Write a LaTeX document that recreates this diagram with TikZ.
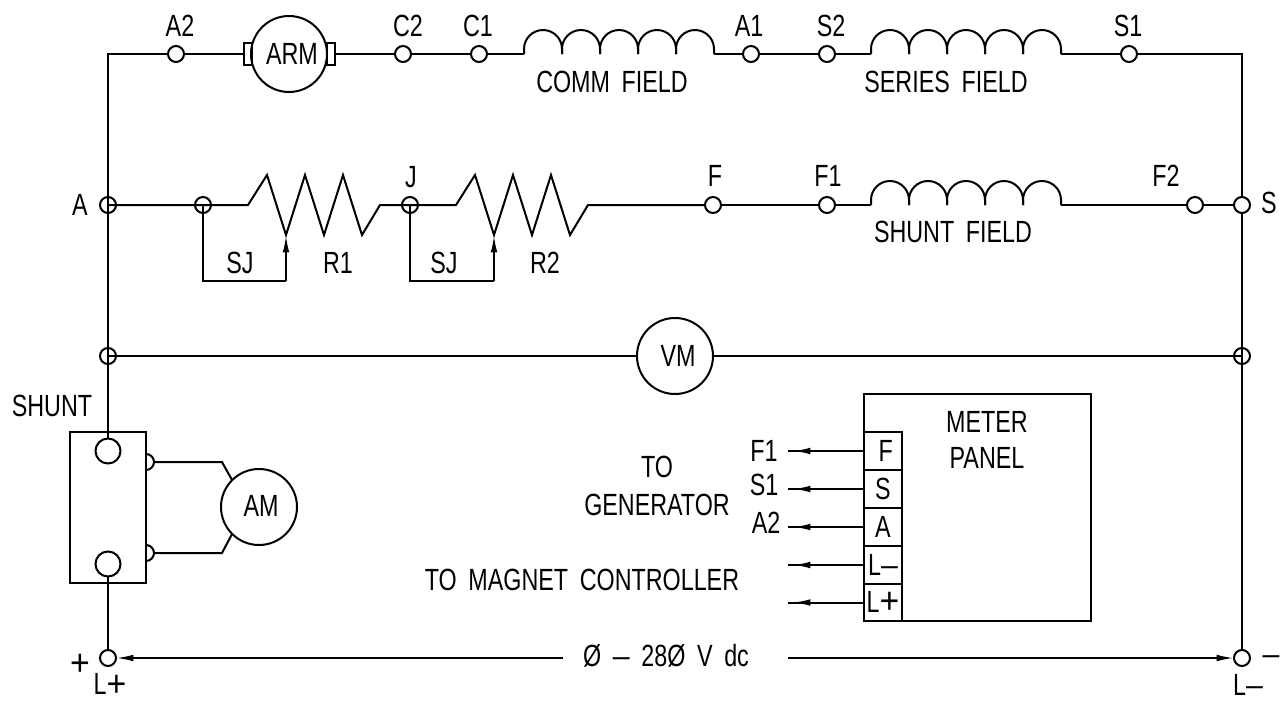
\documentclass[tikz,border=0pt]{standalone}
\usepackage{fontspec}
\setmainfont{Liberation Sans}[FakeStretch=0.76, WordSpace=1.8]
\usetikzlibrary{arrows.meta}

\newcommand{\bigplus}{\raisebox{-1pt}{\scalebox{1.45}[1.2]{+}}}
\newcommand{\longdash}{\scalebox{1.3}[1]{–}}

\tikzset{
    wire/.style={line width=1.5pt},
    arrowwire/.style={wire, -{Latex[length=13pt,width=5pt]}},
    term/.style={draw, circle, line width=1.5pt, minimum size=12pt, inner sep=0pt, outer sep=0pt},
    bigcirc/.style={draw, circle, line width=1.5pt, minimum size=57pt, inner sep=0pt, outer sep=0pt},
    cell/.style={draw, line width=1.5pt, minimum width=28.5pt, minimum height=28.35pt, inner sep=0pt, outer sep=0pt},
    lbl/.style={inner sep=0pt},
    coilpic/.pic={
        \foreach \k in {0,...,4} {
            \draw[wire] (38*\k,0) -- ++(0,-5) arc[start angle=180, end angle=360, radius=19] -- ++(0,5);
        }
    }
}

\begin{document}
\begin{tikzpicture}[x=0.75pt, y=-0.75pt, every node/.append style={font=\fontsize{23}{26}\selectfont}]
    \useasboundingbox (0,0) rectangle (1283,701);

    % top row
    \node[term] (tA2) at (176,54) {};
    \node[bigcirc] (arm) at (289,54) {};
    \node[term] (tC2) at (403,54) {};
    \node[term] (tC1) at (479,54) {};
    \node[term] (tA1) at (751,54) {};
    \node[term] (tS2) at (827,54) {};
    \node[term] (tS1) at (1129,54) {};
    \node[draw, line width=1.5pt, minimum width=6pt, minimum height=17pt, inner sep=0pt, outer sep=0pt] (brushL) at (248,54) {};
    \node[draw, line width=1.5pt, minimum width=6pt, minimum height=17pt, inner sep=0pt, outer sep=0pt] (brushR) at (331,54) {};
    \coordinate (commA) at (524,54);
    \coordinate (commB) at (714,54);
    \coordinate (serA) at (871,54);
    \coordinate (serB) at (1061,54);
    \coordinate (cornerL) at (108,54);
    \coordinate (cornerR) at (1242,54);
    \pic at (commA) {coilpic};
    \pic at (serA) {coilpic};

    % middle row
    \node[term] (tA) at (108,205) {};
    \node[term] (tB) at (203,205) {};
    \node[term] (tJ) at (410,205) {};
    \node[term] (tF) at (713,205) {};
    \node[term] (tF1) at (827,205) {};
    \node[term] (tF2) at (1195,205) {};
    \node[term] (tS) at (1242,205) {};
    \coordinate (rOne) at (248,205);
    \coordinate (rTwo) at (456,205);
    \coordinate (shA) at (871,205);
    \coordinate (shB) at (1061,205);
    \pic at (shA) {coilpic};
    \coordinate (wiperOne) at (286,235);
    \coordinate (wiperTwo) at (494,235);
    \coordinate (sjOneA) at (203,281);
    \coordinate (sjOneB) at (286,281);
    \coordinate (sjTwoA) at (410,281);
    \coordinate (sjTwoB) at (494,281);

    % voltmeter row
    \node[term] (tVL) at (108,356) {};
    \node[bigcirc] (vm) at (675,356) {};
    \node[term] (tVR) at (1242,356) {};

    % shunt and ammeter
    \node[draw, line width=1.5pt, minimum width=57pt, minimum height=113.25pt, inner sep=0pt, outer sep=0pt] (shunt) at (108,507.5) {};
    \node[draw, circle, line width=1.5pt, minimum size=18.75pt, inner sep=0pt, outer sep=0pt] (shTop) at (108,451) {};
    \node[draw, circle, line width=1.5pt, minimum size=18.75pt, inner sep=0pt, outer sep=0pt] (shBot) at (108,564) {};
    \node[bigcirc] (amm) at (259,507) {};
    \draw[wire] (146,454) arc[start angle=-90, end angle=90, radius=8];
    \draw[wire] (146,545) arc[start angle=-90, end angle=90, radius=8];
    \coordinate (studA) at (154,462);
    \coordinate (studB) at (154,553);
    \coordinate (kneeA) at (222,462);
    \coordinate (kneeB) at (222,553);

    % supply
    \node[term] (tLp) at (108,658) {};
    \node[term] (tLm) at (1242,658) {};
    \coordinate (supplyL) at (563,658);
    \coordinate (supplyR) at (788,658);

    % panel
    \node[draw, line width=1.5pt, minimum width=170.25pt, minimum height=170.25pt, inner sep=0pt, outer sep=0pt] (panel) at (977.5,507.5) {};
    \node[cell] (cF) at (883,451) {\hspace*{4pt}F};
    \node[cell] (cS) at (883,489) {S};
    \node[cell] (cA) at (883,527) {A};
    \node[cell] (cLm) at (883,565) {L\longdash};
    \node[cell] (cLp) at (883,602.5) {L\bigplus};
    \foreach \n/\y in {cF/451, cS/489, cA/527, cLm/565, cLp/602.5} {
        \draw[wire] (\n.west) -- (788,\y);
        \draw[arrowwire] (\n.west) -- (793,\y);
    }

    % wires
    \draw[wire] (tA2) -- (cornerL) -- (tA.center) -- (tVL.center) -- (shTop);
    \draw[wire] (tS1) -- (cornerR) -- (tS);
    \draw[wire] (tS) -- (tVR.center) -- (tLm);
    \draw[wire] (tA2) -- (brushL);
    \draw[wire] (brushR) -- (tC2);
    \draw[wire] (tC2) -- (tC1);
    \draw[wire] (tC1) -- (commA);
    \draw[wire] (commB) -- (tA1);
    \draw[wire] (tA1) -- (tS2);
    \draw[wire] (tS2) -- (serA);
    \draw[wire] (serB) -- (tS1);
    \draw[wire] (tA.center) -- (tB.center) -- (rOne) -- ++(19,-30) -- ++(19,60) -- ++(19,-60) -- ++(19,60) -- ++(19,-60) -- ++(19,60) -- ++(18,-30) -- (tJ.center) -- (rTwo) -- ++(19,-30) -- ++(19,60) -- ++(19,-60) -- ++(19,60) -- ++(19,-60) -- ++(19,60) -- ++(18,-30) -- (tF);
    \draw[wire] (tF) -- (tF1);
    \draw[wire] (tF1) -- (shA);
    \draw[wire] (shB) -- (tF2);
    \draw[wire] (tF2) -- (tS);
    \draw[wire] (tB.center) -- (sjOneA) -- (sjOneB);
    \draw[arrowwire] (sjOneB) -- (wiperOne);
    \draw[wire] (tJ.center) -- (sjTwoA) -- (sjTwoB);
    \draw[arrowwire] (sjTwoB) -- (wiperTwo);
    \draw[wire] (tVL.center) -- (vm);
    \draw[wire] (vm) -- (tVR.center);
    \draw[wire] (shBot) -- (tLp);
    \draw[wire] (studA) -- (kneeA) -- (amm.135);
    \draw[wire] (studB) -- (kneeB) -- (amm.225);
    \draw[arrowwire] (supplyL) -- (tLp);
    \draw[arrowwire] (supplyR) -- (tLm);

    % labels
    \node[lbl] at (292,54) {ARM};
    \node[lbl] at (678,356) {VM};
    \node[lbl] at (261,506) {AM};
    \node[lbl] at (180,26) {A2};
    \node[lbl] at (408,26) {C2};
    \node[lbl] at (478,26) {C1};
    \node[lbl] at (749,26) {A1};
    \node[lbl] at (831,26) {S2};
    \node[lbl] at (1128,26) {S1};
    \node[lbl] at (612,82) {COMM FIELD};
    \node[lbl] at (946,82) {SERIES FIELD};
    \node[lbl] at (80,205) {A};
    \node[lbl] at (1269,203) {S};
    \node[lbl] at (411,177) {J};
    \node[lbl] at (715,176) {F};
    \node[lbl] at (828,176) {F1};
    \node[lbl] at (1166,176) {F2};
    \node[lbl] at (953,232) {SHUNT FIELD};
    \node[lbl] at (240,263) {SJ};
    \node[lbl] at (338,263) {R1};
    \node[lbl] at (444,263) {SJ};
    \node[lbl] at (545,263) {R2};
    \node[lbl] at (52,406) {SHUNT};
    \node[lbl] at (657,467) {TO};
    \node[lbl] at (657,505) {GENERATOR};
    \node[lbl] at (582,580) {TO MAGNET CONTROLLER};
    \node[lbl] at (764,451) {F1};
    \node[lbl] at (764,485) {S1};
    \node[lbl] at (766,523) {A2};
    \node[lbl] at (987,422) {METER};
    \node[lbl] at (987,458) {PANEL};
    \node[lbl] at (666,656) {Ø\ \longdash\ 28Ø\ V\ dc};
    \node[lbl] at (80,665) {\bigplus};
    \node[lbl] at (110,685) {L\bigplus};
    \node[lbl] at (1271,660) {\longdash};
    \node[lbl] at (1248,685) {L\longdash};
\end{tikzpicture}
\end{document}
